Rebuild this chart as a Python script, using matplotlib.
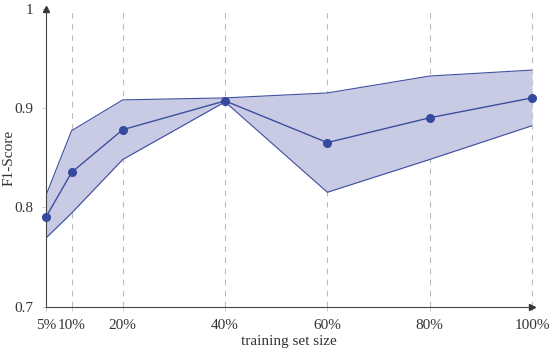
import matplotlib
matplotlib.use("Agg")
import matplotlib.pyplot as plt

sizes = [5, 10, 20, 40, 60, 80, 100]
tick_labels = ["5%", "10%", "20%", "40%", "60%", "80%", "100%"]
f1_mean = [0.790, 0.835, 0.878, 0.907, 0.865, 0.890, 0.910]
f1_upper = [0.812, 0.877, 0.908, 0.910, 0.915, 0.932, 0.938]
f1_lower = [0.769, 0.794, 0.848, 0.906, 0.815, 0.848, 0.882]

plt.rcParams['font.family'] = ['Liberation Serif', 'DejaVu Serif']
line_c = "#3d4fa0"
fill_c = "#c9cae4"
text_c = "#333333"

fig = plt.figure(figsize=(5.5, 3.51), dpi=100)
ax = fig.add_axes([46/550, 1-306.5/351, (532-46)/550, (306.5-8.5)/351])

ax.fill_between(sizes, f1_lower, f1_upper, color=fill_c, linewidth=0, zorder=1)
ax.plot(sizes, f1_upper, color=line_c, lw=0.8, zorder=2)
ax.plot(sizes, f1_lower, color=line_c, lw=0.8, zorder=2)
ax.plot(sizes, f1_mean, color=line_c, lw=1.0, marker='o', ms=5.5,
        markerfacecolor="#3449a0", markeredgecolor="#3449a0", zorder=3,
        clip_on=False)

ax.set_xlim(5, 100)
ax.set_ylim(0.7, 1.0)
ax.set_xticks(sizes)
ax.set_xticklabels(tick_labels)
ax.set_yticks([0.7, 0.8, 0.9, 1.0])
ax.set_yticklabels(["0.7", "0.8", "0.9", "1"])
for x in sizes[1:]:
    ax.axvline(x, color="#bbbbbb", lw=0.8, ls=(0, (5, 5)), zorder=0, clip_on=False)

for s in ["top", "right"]:
    ax.spines[s].set_visible(False)
for s in ["left", "bottom"]:
    ax.spines[s].set_color("#444444")
    ax.spines[s].set_linewidth(0.8)
ax.tick_params(axis='both', direction='out', length=3, width=0.6,
               color="#c8c8c8", labelsize=11, labelcolor=text_c)
ax.tick_params(axis='x', pad=6)
ax.tick_params(axis='y', pad=6)
ax.plot(1, 0, ">", transform=ax.transAxes, clip_on=False, color="#333333", ms=4)
ax.plot(0, 1, "^", transform=ax.transAxes, clip_on=False, color="#333333", ms=4)

ax.set_xlabel("training set size", fontsize=11, color=text_c, labelpad=2)
ax.set_ylabel("F1-Score", fontsize=11, color=text_c)
ax.yaxis.set_label_coords(-30/486, 0.5)

fig.savefig("out.png", dpi=100)
